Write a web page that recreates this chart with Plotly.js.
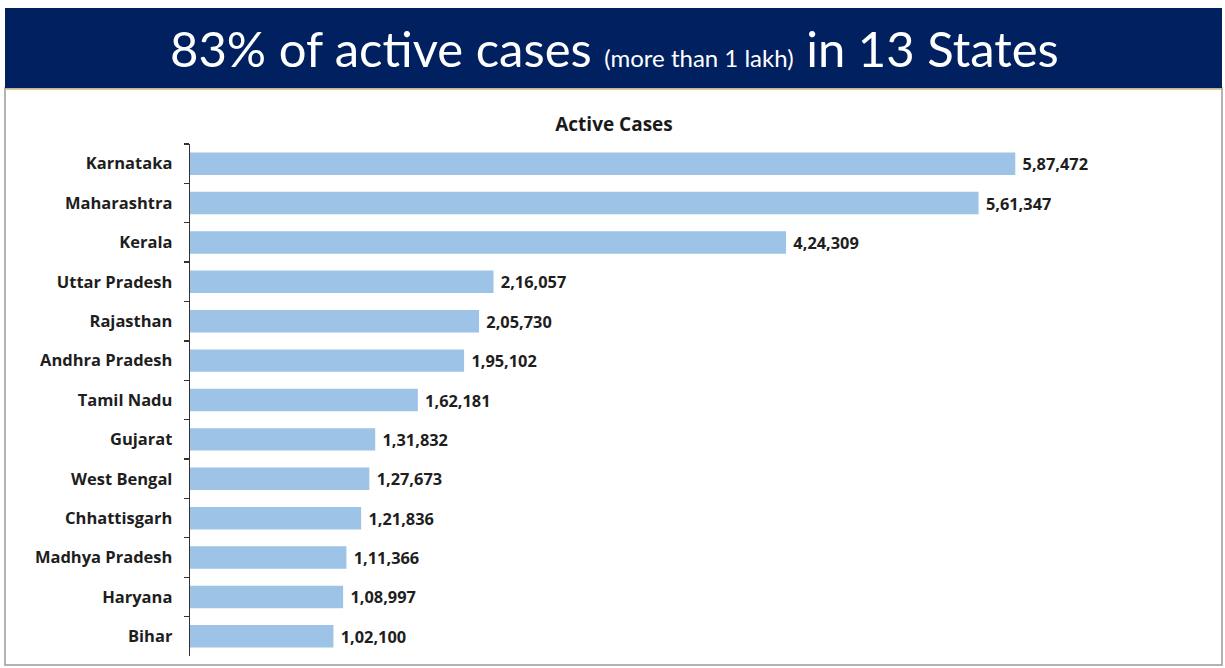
<!DOCTYPE html>
<html>
<head>
<meta charset="utf-8">
<script src="https://cdn.plot.ly/plotly-3.0.1.min.js"></script>
<style>html,body{margin:0;padding:0;background:#fff;}#chart{width:1225px;height:668px;}</style>
</head>
<body>
<div id="chart"></div>
<script>
const states = ["Karnataka","Maharashtra","Kerala","Uttar Pradesh","Rajasthan","Andhra Pradesh","Tamil Nadu","Gujarat","West Bengal","Chhattisgarh","Madhya Pradesh","Haryana","Bihar"];
const activeCases = [587472,561347,424309,216057,205730,195102,162181,131832,127673,121836,111366,108997,102100];
const chartTitle = "Active Cases";
const headerMain1 = "83% of active cases ";
const headerSmall = "(more than 1 lakh)";
const headerMain2 = " in 13 States";

function indianFormat(n){
  const s = String(n);
  if (s.length <= 3) return s;
  const last3 = s.slice(-3);
  let rest = s.slice(0, -3);
  const parts = [];
  while (rest.length > 2){ parts.unshift(rest.slice(-2)); rest = rest.slice(0, -2); }
  if (rest.length) parts.unshift(rest);
  return parts.join(",") + "," + last3;
}

const L = 190, R = 1120, T = 144, B = 656;
const W = R - L, H = B - T;
const px = x => (x - L) / W;
const py = y => (B - y) / H;

const trace = {
  type: "bar",
  orientation: "h",
  y: states,
  x: activeCases,
  text: activeCases.map(v => " " + indianFormat(v)),
  textposition: "outside",
  cliponaxis: false,
  textfont: {family: "Open Sans", size: 17.5, color: "#1e1e1e", weight: "bold"},
  marker: {color: "#9dc3e6"},
  hoverinfo: "none"
};

const layout = {
  width: 1225, height: 668,
  margin: {l: L, r: 1225 - R, t: T, b: 668 - B},
  paper_bgcolor: "#ffffff",
  plot_bgcolor: "rgba(0,0,0,0)",
  showlegend: false,
  bargap: 0.43,
  uniformtext: {mode: false},
  title: {
    text: "<b>" + chartTitle + "</b>",
    font: {family: "Open Sans", size: 19, color: "#1a1a1a"},
    x: px(614), xref: "paper", xanchor: "center",
    y: 1 - 124/668, yref: "container", yanchor: "middle"
  },
  xaxis: {
    range: [0, 662000],
    visible: false,
    fixedrange: true
  },
  yaxis: {
    autorange: "reversed",
    showline: true, linecolor: "#333", linewidth: 1.3,
    ticks: "outside", ticklen: 5, tickcolor: "#333", tickwidth: 1.3,
    tickson: "boundaries",
    showgrid: false, zeroline: false,
    ticklabelstandoff: 13,
    tickfont: {family: "Open Sans", size: 16.5, color: "#1e1e1e", weight: "bold"},
    fixedrange: true
  },
  shapes: [
    {type: "rect", xref: "paper", yref: "paper", x0: px(5), x1: px(1222), y0: py(665), y1: py(88),
     line: {color: "#9a9a9a", width: 1.5}, fillcolor: "rgba(0,0,0,0)", layer: "below"},
    {type: "rect", xref: "paper", yref: "paper", x0: px(5), x1: px(1222), y0: py(88), y1: py(8),
     line: {width: 0}, fillcolor: "#002060", layer: "below"},
    {type: "line", xref: "paper", yref: "paper", x0: px(5), x1: px(1222), y0: py(89), y1: py(89),
     line: {color: "#c8b98a", width: 1.5}}
  ],
  annotations: [
    {xref: "paper", yref: "paper", x: px(614), y: py(48), xanchor: "center", yanchor: "middle",
     showarrow: false,
     text: headerMain1 + "<span style='font-size:24px'>" + headerSmall + "</span>" + headerMain2,
     font: {family: "Lato", size: 49, color: "#ffffff"}}
  ]
};

Plotly.newPlot("chart", [trace], layout, {displayModeBar: false, staticPlot: true});
</script>
</body>
</html>
